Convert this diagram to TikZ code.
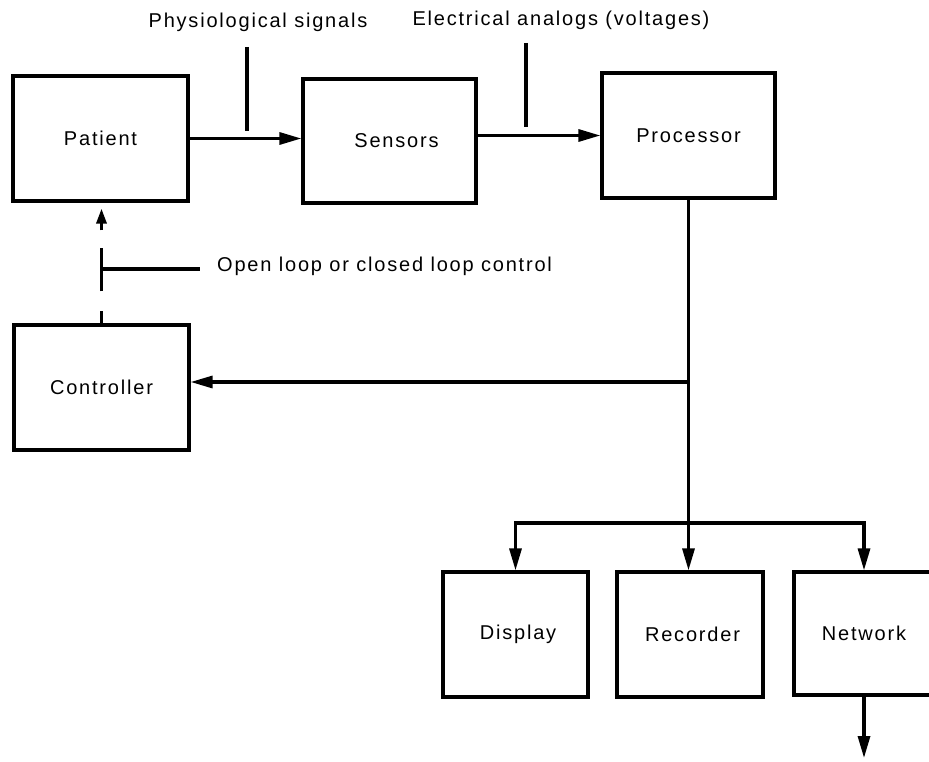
\documentclass[tikz,border=0pt]{standalone}
\usepackage{fontspec}
\setmainfont{Liberation Sans}[LetterSpace=9]
\usetikzlibrary{arrows.meta}
\begin{document}
\begin{tikzpicture}[x=1pt,y=-1pt,
  font=\fontsize{20}{24}\selectfont,
  box/.style={draw=black,line width=3.2pt,rectangle,inner sep=0pt,fill=none},
  link/.style={line width=3.2pt},
  arr/.style={line width=3.2pt,-{Triangle[length=22pt,width=12pt]}},
  lbl/.style={inner sep=0pt}]
\useasboundingbox (0,0) rectangle (929,762);
% boxes
\node[box,minimum width=175pt,minimum height=125pt] (patient) at (100.5,138.5) {Patient};
\node[box,minimum width=173pt,minimum height=124pt] (sensors) at (389.5,141) {\hspace{14pt}Sensors};
\node[box,minimum width=173pt,minimum height=125pt] (processor) at (688.5,135.5) {Processor};
\node[box,minimum width=175pt,minimum height=125pt] (controller) at (101.5,387.5) {\raisebox{-7pt}{Controller}};
\node[box,minimum width=145pt,minimum height=125pt] (display) at (515.5,634.5) {\hspace{5pt}Display};
\node[box,minimum width=146pt,minimum height=125pt] (recorder) at (690,634.5) {\hspace{5pt}Recorder};
\node[box,minimum width=140pt,minimum height=123pt] (network) at (864,633.5) {Network};
% labels
\node[lbl] (lphys) at (258,22) {Physiological signals};
\node[lbl] (lelec) at (561,20) {Electrical analogs (voltages)};
\node[lbl,anchor=west] (lopen) at (217,266) {Open loop or closed loop control};
% pointer lines
\coordinate (p1a) at (247,47);  \coordinate (p1b) at (247,131);
\coordinate (p2a) at (526,43);  \coordinate (p2b) at (526,127);
\coordinate (p3a) at (103,269); \coordinate (p3b) at (200,269);
\draw[link] (p1a) -- (p1b);
\draw[link] (p2a) -- (p2b);
\draw[link] (p3a) -- (p3b);
% main chain
\draw[arr] (patient.east) -- (patient.east -| sensors.west);
\draw[arr] (sensors.east |- processor.west) -- (processor.west);
% processor distribution
\coordinate (jc) at (processor.south |- 0,382);
\coordinate (jb) at (processor.south |- 0,523);
\draw[arr] (processor.south) -- (processor.south |- recorder.north);
\draw[arr] (jc) -- (jc -| controller.east);
\draw[arr] (jb) -- (jb -| display.north) -- (display.north);
\draw[arr] (jb) -- (jb -| network.north) -- (network.north);
% network output
\coordinate (netout) at (network.south |- 0,758);
\draw[arr] (network.south) -- (netout);
% controller to patient (dashed)
\draw[line width=3.2pt,dash pattern=on 12pt off 20pt on 43pt off 18pt on 80pt,
  -{Triangle[length=15pt,width=10pt]},shorten >=6pt]
  (controller.north) -- (controller.north |- patient.south);
\end{tikzpicture}
\end{document}
